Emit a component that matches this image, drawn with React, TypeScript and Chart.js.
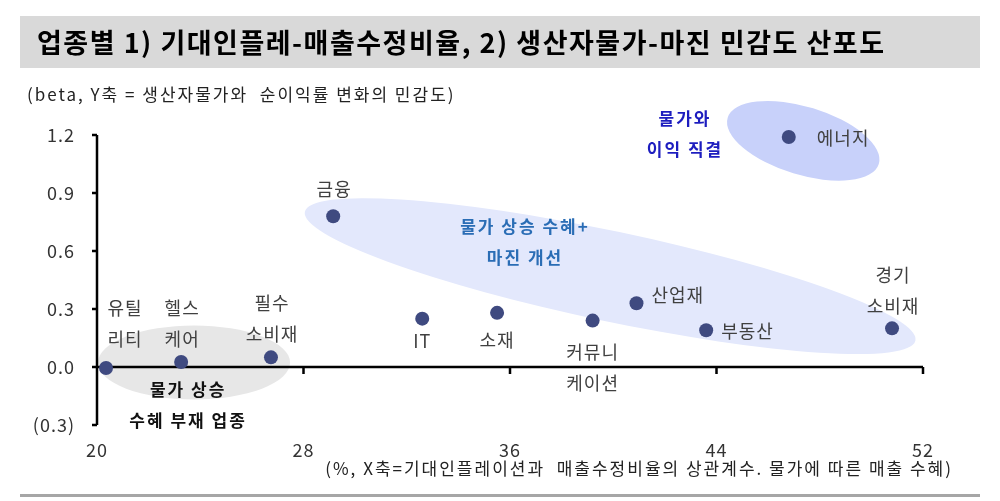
import { useEffect, useRef } from "react";
import { Chart, registerables } from "chart.js";

Chart.register(...registerables);

const FONT = '"Noto Sans CJK KR", "Noto Sans", sans-serif';

// 업종, x: 기대인플레-매출수정비율 상관계수(%), y: 생산자물가-순이익률 beta
const sectors = [
  "유틸리티",
  "헬스케어",
  "필수소비재",
  "금융",
  "IT",
  "소재",
  "커뮤니케이션",
  "산업재",
  "부동산",
  "경기소비재",
  "에너지",
];
const salesCorr = [20.35, 23.26, 26.74, 29.15, 32.6, 35.5, 39.2, 40.9, 43.6, 50.8, 46.8];
const marginBeta = [-0.005, 0.026, 0.05, 0.78, 0.25, 0.28, 0.24, 0.33, 0.19, 0.2, 1.19];

const xTicks = [20, 28, 36, 44, 52];
const yTicks = [-0.3, 0, 0.3, 0.6, 0.9, 1.2];

// how each sector name is split and placed next to its dot (pixels)
const labelLayout = [
  { lines: ["유틸", "리티"], dx: 19, dy: -60, align: "center" },
  { lines: ["헬스", "케어"], dx: 1, dy: -54, align: "center" },
  { lines: ["필수", "소비재"], dx: 1, dy: -54, align: "center" },
  { lines: ["금융"], dx: 1, dy: -27, align: "center" },
  { lines: ["IT"], dx: 0, dy: 22, align: "center" },
  { lines: ["소재"], dx: 0, dy: 27, align: "center" },
  { lines: ["커뮤니", "케이션"], dx: 0, dy: 32, align: "center" },
  { lines: ["산업재"], dx: 15, dy: -8, align: "left" },
  { lines: ["부동산"], dx: 15, dy: 1, align: "left" },
  { lines: ["경기", "소비재"], dx: 1, dy: -53, align: "center" },
  { lines: ["에너지"], dx: 28, dy: 1, align: "left" },
];

// shaded groups: centre in data units, radii in pixels
const zones = [
  { cx: 23.76, cy: 0.023, rx: 96, ry: 37, rot: 0, color: "#e7e7e7" },
  { cx: 39.88, cy: 0.47, rx: 312, ry: 45, rot: 11.9, color: "#e3e8fc" },
  { cx: 47.36, cy: 1.17, rx: 79, ry: 34, rot: 17, color: "#c8d1fa" },
];

const notes = [
  { lines: ["물가와", "이익 직결"], x: 42.78, y: 1.283, color: "#1d1dbf" },
  { lines: ["물가 상승 수혜+", "마진 개선"], x: 36.58, y: 0.724, color: "#2a6db5" },
  { lines: ["물가 상승", "수혜 부재 업종"], x: 23.53, y: -0.119, color: "#111111" },
];

const frame = {
  id: "frame",
  beforeDraw(chart: Chart) {
    const { ctx } = chart;
    ctx.save();
    ctx.fillStyle = "#ffffff";
    ctx.fillRect(0, 0, chart.width, chart.height);
    ctx.fillStyle = "#d9d9d9";
    ctx.fillRect(20, 16, 960, 52);
    ctx.fillStyle = "#000000";
    ctx.textBaseline = "middle";
    ctx.textAlign = "left";
    ctx.letterSpacing = "1.5px";
    ctx.font = `bold 27px ${FONT}`;
    ctx.fillText("업종별 1) 기대인플레-매출수정비율, 2) 생산자물가-마진 민감도 산포도", 37, 43);
    ctx.fillStyle = "#222222";
    ctx.letterSpacing = "2px";
    ctx.font = `17px ${FONT}`;
    ctx.fillText("(beta, Y축 = 생산자물가와  순이익률 변화의 민감도)", 27, 95);
    ctx.textAlign = "right";
    ctx.fillText("(%, X축=기대인플레이션과  매출수정비율의 상관계수. 물가에 따른 매출 수혜)", 953, 469);
    ctx.fillStyle = "#a6a6a6";
    ctx.fillRect(20, 494, 960, 3);
    ctx.restore();
    // slightly wider glyph spacing for the axis tick labels too
    ctx.letterSpacing = "1px";
  },
};

const underlay = {
  id: "underlay",
  beforeDatasetsDraw(chart: Chart) {
    const { ctx } = chart;
    const x = chart.scales.x;
    const y = chart.scales.y;
    ctx.save();
    zones.forEach((z) => {
      ctx.beginPath();
      ctx.ellipse(
        x.getPixelForValue(z.cx),
        y.getPixelForValue(z.cy),
        z.rx,
        z.ry,
        (z.rot * Math.PI) / 180,
        0,
        Math.PI * 2
      );
      ctx.fillStyle = z.color;
      ctx.fill();
    });

    ctx.textAlign = "center";
    ctx.textBaseline = "middle";
    ctx.letterSpacing = "2px";
    ctx.font = `bold 17px ${FONT}`;
    notes.forEach((n) => {
      ctx.fillStyle = n.color;
      const px = x.getPixelForValue(n.x);
      const py = y.getPixelForValue(n.y);
      n.lines.forEach((t, i) => ctx.fillText(t, px, py + i * 31));
    });

    // axes crossing at x=20 and y=0
    const x0 = x.getPixelForValue(xTicks[0]);
    const y0 = y.getPixelForValue(0);
    ctx.strokeStyle = "#000000";
    ctx.lineWidth = 2.5;
    ctx.beginPath();
    ctx.moveTo(x0, y.getPixelForValue(yTicks[0]));
    ctx.lineTo(x0, y.getPixelForValue(yTicks[yTicks.length - 1]));
    ctx.moveTo(x0, y0);
    ctx.lineTo(x.getPixelForValue(xTicks[xTicks.length - 1]), y0);
    yTicks.forEach((v) => {
      const py = y.getPixelForValue(v);
      ctx.moveTo(x0 - 5, py);
      ctx.lineTo(x0, py);
    });
    xTicks.slice(1).forEach((v) => {
      const px = x.getPixelForValue(v);
      ctx.moveTo(px, y0);
      ctx.lineTo(px, y0 + 7);
    });
    ctx.stroke();
    ctx.restore();
  },
};

const pointLabels = {
  id: "pointLabels",
  afterDatasetsDraw(chart: Chart) {
    const { ctx } = chart;
    const meta = chart.getDatasetMeta(0);
    ctx.save();
    ctx.fillStyle = "#404040";
    ctx.letterSpacing = "1px";
    ctx.font = `18px ${FONT}`;
    ctx.textBaseline = "middle";
    meta.data.forEach((el, i) => {
      const l = labelLayout[i];
      ctx.textAlign = l.align as CanvasTextAlign;
      l.lines.forEach((t, j) => ctx.fillText(t, el.x + l.dx, el.y + l.dy + j * 31));
    });
    ctx.restore();
  },
};

export default function App() {
  const canvasRef = useRef<HTMLCanvasElement>(null);

  useEffect(() => {
    if (!canvasRef.current) return;
    const chart = new Chart(canvasRef.current, {
      type: "scatter",
      data: {
        labels: sectors,
        datasets: [
          {
            label: "업종",
            data: salesCorr.map((v, i) => ({ x: v, y: marginBeta[i] })),
            pointRadius: 7,
            pointHoverRadius: 7,
            backgroundColor: "#3f4a80",
            borderWidth: 0,
            clip: false,
          },
        ],
      },
      options: {
        animation: false,
        responsive: true,
        maintainAspectRatio: false,
        events: [],
        layout: { padding: { left: 0, top: 135, right: 77, bottom: 0 } },
        plugins: {
          legend: { display: false },
          tooltip: { enabled: false },
        },
        scales: {
          x: {
            type: "linear",
            min: xTicks[0],
            max: xTicks[xTicks.length - 1],
            grid: { display: false, drawTicks: false },
            border: { display: false },
            ticks: { color: "#333333", padding: 14, font: { family: FONT, size: 18 } },
            afterBuildTicks: (s) => {
              s.ticks = xTicks.map((value) => ({ value }));
            },
            afterFit: (s) => {
              s.height = 76;
            },
          },
          y: {
            type: "linear",
            min: yTicks[0],
            max: yTicks[yTicks.length - 1],
            grid: { display: false, drawTicks: false },
            border: { display: false },
            ticks: {
              color: "#333333",
              padding: 22,
              font: { family: FONT, size: 18 },
              callback: (v) => {
                const n = Number(v);
                return n < 0 ? `(${Math.abs(n).toFixed(1)})` : n.toFixed(1);
              },
            },
            afterBuildTicks: (s) => {
              s.ticks = yTicks.map((value) => ({ value }));
            },
            afterFit: (s) => {
              s.width = 97;
            },
          },
        },
      },
      plugins: [frame, underlay, pointLabels],
    });
    return () => chart.destroy();
  }, []);

  return (
    <div style={{ position: "absolute", left: 0, top: 0, width: 1000, height: 501, background: "#fff" }}>
      <canvas ref={canvasRef} />
    </div>
  );
}
